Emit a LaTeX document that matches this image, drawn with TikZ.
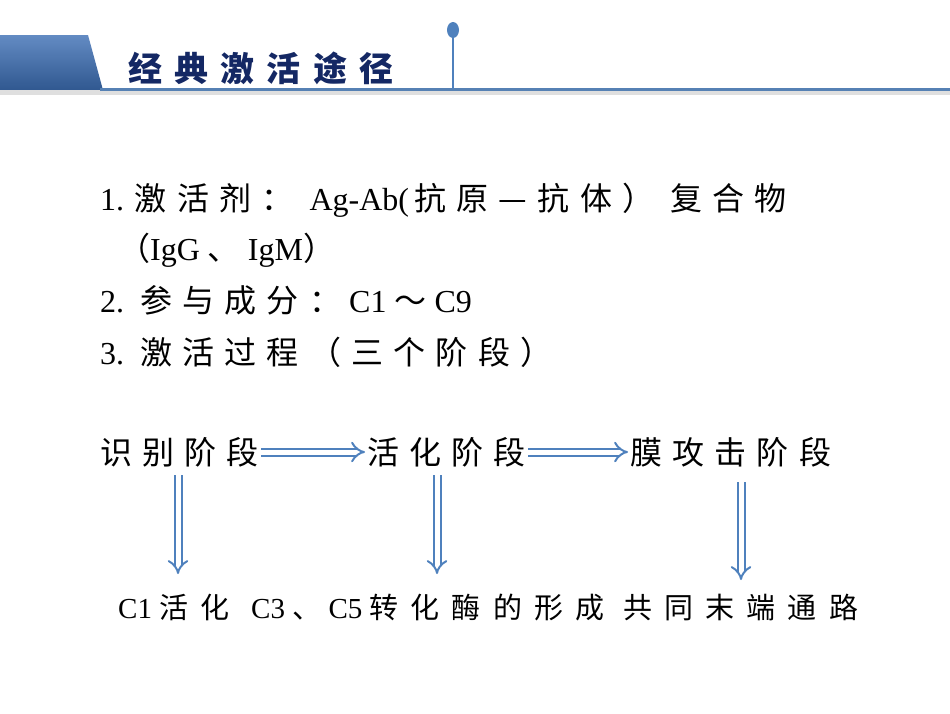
\documentclass[tikz,border=0pt]{standalone}
\usepackage{fontspec}
\setmainfont{Liberation Serif}
\newfontfamily\cjk[LetterSpace=32]{Noto Sans CJK SC}
\newfontfamily\cjkb[LetterSpace=42]{Noto Sans CJK SC}
\newfontfamily\cjkt[LetterSpace=36]{Noto Sans CJK SC}
\usetikzlibrary{arrows.meta}
\definecolor{arrblue}{RGB}{79,129,189}
\definecolor{navy}{RGB}{20,40,100}
\definecolor{hdr}{RGB}{60,110,180}
\tikzset{
 txt/.style={anchor=west,inner sep=0pt,font=\fontsize{32}{32}\selectfont},
 stage/.style={inner sep=2pt,font=\cjk\fontsize{32}{32}\selectfont},
 blk/.style={draw=arrblue,double=white,double distance=5pt,line width=2pt,-{Implies[length=8pt,width=20pt]}}
}
\begin{document}
\begin{tikzpicture}[x=1pt,y=-1pt]
\useasboundingbox (0,0) rectangle (950,713);
% header
\shade[top color=hdr!80!white,bottom color=hdr!80!black] (0,35) -- (88,35) -- (103,90) -- (0,90) -- cycle;
\fill[gray!25] (0,90) rectangle (950,95);
\draw[line width=2.5pt,color=arrblue!85!gray] (100,89.5) -- (950,89.5);
\coordinate (vt) at (453,30);
\coordinate (vb) at (453,89);
\draw[line width=1.5pt,arrblue] (vt) -- (vb);
\fill[arrblue] (vt) ellipse (6 and 8);
\node[anchor=west,inner sep=0pt,text=navy,font=\cjkt\bfseries\fontsize{34}{34}\selectfont] (title) at (128,68) {经典激活途径};
% body
\node[txt] (l1) at (100,200) {1. {\cjk 激活剂：}\ \ Ag-Ab(\,{\cjk 抗原—抗体）}\ \ {\cjk 复合物}};
\node[txt] (l2) at (118,250) {{\cjk（}IgG {\cjk 、} IgM{\cjk ）}};
\node[txt] (l3) at (100,300) {2.\ \ {\cjk 参与成分：} C1 {\cjk ～} C9};
\node[txt] (l4) at (100,352) {3.\ \ {\cjk 激活过程（三个阶段）}};
% stages
\node[stage,anchor=west] (s1) at (98,452) {识别阶段};
\node[stage,anchor=west] (s2) at (365,452) {活化阶段};
\node[stage,anchor=west] (s3) at (628,452) {膜攻击阶段};
\draw[blk] (s1.east) -- (s2.west);
\draw[blk] (s2.east) -- (s3.west);
\coordinate (e1) at (178,574);
\coordinate (e2) at (437,574);
\coordinate (e3) at (741,580);
\draw[blk] (178,475) -- (e1);
\draw[blk] (437,475) -- (e2);
\draw[blk] (741,482) -- (e3);
\node[txt,font=\fontsize{29}{29}\selectfont] (bot) at (118,608) {C1 {\cjkb 活化}\ \ \ C3 {\cjkb 、} C5 {\cjkb 转化酶的形成 共同末端通路}};
\end{tikzpicture}
\end{document}
